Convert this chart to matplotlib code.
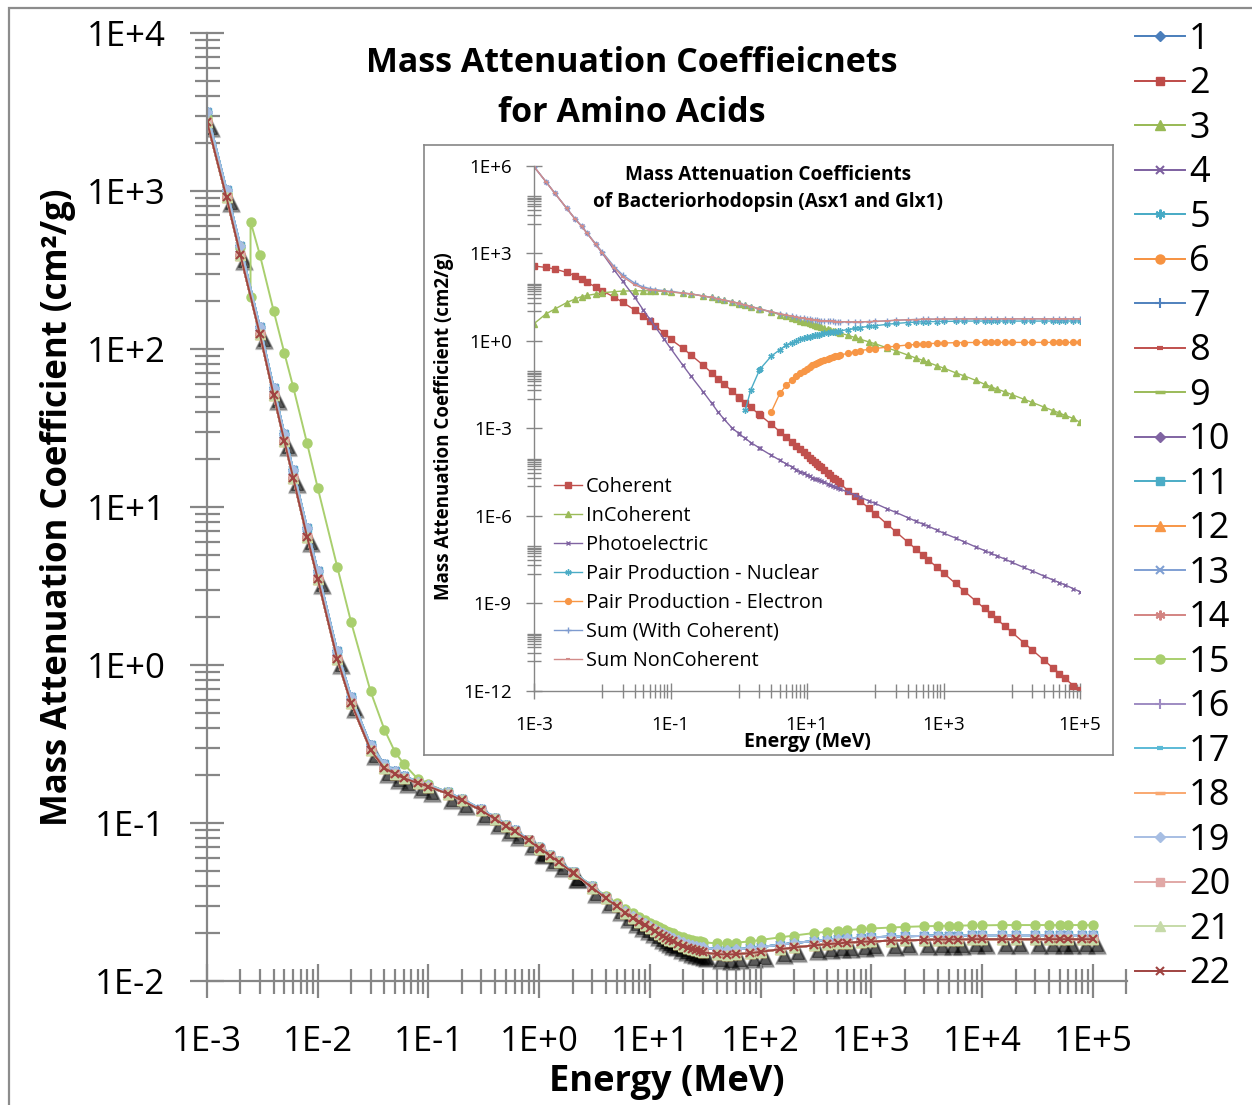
import numpy as np
import matplotlib
matplotlib.use("Agg")
import matplotlib.pyplot as plt
from matplotlib import ticker
from matplotlib.transforms import offset_copy

plt.rcParams['font.family'] = ['Open Sans', 'DejaVu Sans']

# photon energies (MeV), standard grid
energy = [1e-3, 1.5e-3, 2e-3, 3e-3, 4e-3, 5e-3, 6e-3, 8e-3, 1e-2, 1.5e-2,
          2e-2, 3e-2, 4e-2, 5e-2, 6e-2, 8e-2, 0.1, 0.15, 0.2, 0.3,
          0.4, 0.5, 0.6, 0.8, 1.0, 1.022, 1.25, 1.5, 2.0, 2.044,
          3, 4, 5, 6, 7, 8, 9, 10, 11, 12,
          13, 14, 15, 16, 18, 20, 22, 24, 26, 28,
          30, 40, 50, 60, 80, 100, 150, 200, 300, 400,
          500, 600, 800, 1e3, 1.5e3, 2e3, 3e3, 4e3, 5e3, 6e3,
          8e3, 1e4, 1.5e4, 2e4, 3e4, 4e4, 5e4, 6e4, 8e4, 1e5]

# amino acid curves (cm2/g): upper and lower edge of the bundle
cluster_hi = [3150, 1020, 450, 138, 57, 29, 17.2, 7.4, 3.95, 1.22,
              0.63, 0.31, 0.235, 0.214, 0.198, 0.183, 0.174, 0.156, 0.142, 0.122,
              0.108, 0.097, 0.090, 0.0785, 0.0705, 0.0698, 0.063, 0.0574, 0.0493, 0.0487,
              0.0397, 0.0341, 0.0304, 0.0278, 0.0259, 0.0244, 0.0232, 0.0222, 0.0214, 0.0207,
              0.0201, 0.0196, 0.0192, 0.0188, 0.0181, 0.0176, 0.0172, 0.0169, 0.0167, 0.0165,
              0.0163, 0.0159, 0.0158, 0.0159, 0.0161, 0.0164, 0.0170, 0.0174, 0.0179, 0.0182,
              0.0184, 0.0186, 0.0188, 0.0189, 0.0191, 0.0192, 0.0193, 0.0194, 0.0194, 0.0194,
              0.0195, 0.0195, 0.0195, 0.0195, 0.0195, 0.0195, 0.0195, 0.0195, 0.0195, 0.0195]
cluster_lo = [2750, 910, 395, 124, 51, 26, 15.3, 6.5, 3.5, 1.09,
              0.575, 0.29, 0.222, 0.205, 0.192, 0.179, 0.170, 0.153, 0.139, 0.120,
              0.106, 0.0955, 0.0885, 0.0775, 0.0695, 0.0688, 0.0622, 0.0566, 0.0486, 0.0480,
              0.0390, 0.0334, 0.0297, 0.0271, 0.0252, 0.0237, 0.0225, 0.0215, 0.0207, 0.0199,
              0.0193, 0.0187, 0.0183, 0.0179, 0.0172, 0.0166, 0.0162, 0.0159, 0.0156, 0.0154,
              0.0152, 0.0148, 0.0147, 0.0148, 0.0150, 0.0153, 0.0159, 0.0163, 0.0168, 0.0171,
              0.0173, 0.0175, 0.0177, 0.0178, 0.0180, 0.0181, 0.0182, 0.0183, 0.0183, 0.0183,
              0.0184, 0.0184, 0.0184, 0.0184, 0.0184, 0.0184, 0.0184, 0.0184, 0.0184, 0.0184]

# series 15 has the sulfur K edge (2.472 keV listed twice)
s15_energy = energy[:3] + [2.472e-3, 2.472e-3] + energy[3:]
s15_values = [2900, 960, 440, 214, 640, 395, 174, 94, 57.6, 25.4,
              13.2, 4.18, 1.87, 0.68, 0.39, 0.28, 0.236, 0.19, 0.176, 0.156,
              0.141, 0.121, 0.107, 0.0965, 0.089, 0.078, 0.070, 0.0694, 0.0627, 0.0572,
              0.0493, 0.0487, 0.0399, 0.0345, 0.0310, 0.0286, 0.0268, 0.0254, 0.0243, 0.0234,
              0.0226, 0.0219, 0.0213, 0.0208, 0.0204, 0.0200, 0.0194, 0.0189, 0.0185, 0.0182,
              0.0180, 0.0178, 0.0176, 0.0173, 0.0173, 0.0175, 0.0178, 0.0182, 0.0189, 0.0194,
              0.0201, 0.0205, 0.0208, 0.0210, 0.0213, 0.0215, 0.0218, 0.0220, 0.0222, 0.0223,
              0.0224, 0.0224, 0.0225, 0.0225, 0.0226, 0.0226, 0.0226, 0.0226, 0.0226, 0.0226,
              0.0226, 0.0226]

series_names = [str(i) for i in range(1, 23)]
series_curve = ['hi', 'lo', 'lo', 'lo', 'hi', 'lo', 'hi', 'lo', 'lo', 'lo', 'hi',
                'lo', 'hi', 'lo', 's15', 'lo', 'hi', 'lo', 'hi', 'lo', 'lo', 'lo']

# inset: bacteriorhodopsin components
coherent = [363, 324, 288, 219, 170, 129, 100, 69, 51, 31,
            20.4, 11.2, 6.9, 4.6, 3.16, 1.82, 1.12, 0.56, 0.32, 0.145,
            0.079, 0.049, 0.033, 0.0186, 0.0117, 0.0112, 7.4e-3, 5.1e-3, 2.95e-3, 2.8e-3,
            1.35e-3, 7.6e-4, 4.8e-4, 3.3e-4, 2.45e-4, 1.86e-4, 1.48e-4, 1.17e-4, 9.8e-5, 8.1e-5,
            6.9e-5, 6.0e-5, 5.2e-5, 4.6e-5, 3.6e-5, 2.95e-5, 2.4e-5, 2.0e-5, 1.74e-5, 1.48e-5,
            1.29e-5, 7.2e-6, 4.7e-6, 3.2e-6, 1.82e-6, 1.15e-6, 5.0e-7, 2.8e-7, 1.23e-7, 6.9e-8,
            4.4e-8, 3.0e-8, 1.7e-8, 1.07e-8, 4.7e-9, 2.6e-9, 1.15e-9, 6.5e-10, 4.1e-10, 2.8e-10,
            1.6e-10, 1.0e-10, 4.4e-11, 2.45e-11, 1.07e-11, 6.0e-12, 3.8e-12, 2.6e-12, 1.48e-12, 1.07e-12]
incoherent = [3.8, 8.3, 12.0, 20.0, 26.9, 32.4, 35.5, 39.8, 43.7, 47.9,
              50.1, 51.3, 51.3, 51.3, 50.1, 49.0, 46.8, 42.7, 39.8, 33.9,
              30.2, 26.9, 24.5, 21.4, 19.1, 18.6, 16.6, 14.8, 12.3, 12.0,
              9.5, 7.8, 6.8, 5.9, 5.4, 4.9, 4.5, 4.2, 3.9, 3.6,
              3.47, 3.24, 3.09, 2.95, 2.69, 2.51, 2.34, 2.19, 2.09, 1.95,
              1.86, 1.51, 1.29, 1.12, 0.91, 0.78, 0.56, 0.45, 0.32, 0.25,
              0.21, 0.178, 0.138, 0.115, 0.079, 0.062, 0.043, 0.032, 0.026, 0.022,
              0.0174, 0.0141, 9.8e-3, 7.6e-3, 5.2e-3, 4.0e-3, 3.3e-3, 2.75e-3, 2.14e-3, 1.58e-3]
photoelectric = [9.3e5, 2.8e5, 1.17e5, 3.5e4, 1.48e4, 8.3e3, 4.8e3, 2.0e3, 1.0e3, 263,
                 107, 30.2, 11.2, 5.4, 2.95, 1.15, 0.55, 0.148, 0.060, 0.0178,
                 7.2e-3, 3.5e-3, 2.1e-3, 1.0e-3, 6.6e-4, 6.2e-4, 4.4e-4, 3.2e-4, 2.1e-4, 2.0e-4,
                 1.17e-4, 7.9e-5, 5.9e-5, 4.7e-5, 3.8e-5, 3.2e-5, 2.8e-5, 2.45e-5, 2.2e-5, 2.0e-5,
                 1.86e-5, 1.74e-5, 1.62e-5, 1.51e-5, 1.38e-5, 1.23e-5, 1.12e-5, 1.05e-5, 9.5e-6, 8.9e-6,
                 8.3e-6, 6.3e-6, 5.1e-6, 4.3e-6, 3.2e-6, 2.6e-6, 1.7e-6, 1.29e-6, 8.5e-7, 6.3e-7,
                 5.1e-7, 4.3e-7, 3.2e-7, 2.5e-7, 1.7e-7, 1.26e-7, 8.3e-8, 6.3e-8, 5.0e-8, 4.2e-8,
                 3.2e-8, 2.5e-8, 1.66e-8, 1.26e-8, 8.3e-9, 6.2e-9, 5.0e-9, 4.2e-9, 3.1e-9, 2.45e-9]
pair_nuc_energy = energy[26:]
pair_nuclear = [4.2e-3, 0.0204, 0.095, 0.105, 0.295, 0.49, 0.71, 0.83, 0.98, 1.10,
                1.20, 1.29, 1.38, 1.45, 1.51, 1.58, 1.62, 1.66, 1.78, 1.86,
                1.91, 2.0, 2.04, 2.09, 2.14, 2.4, 2.63, 2.82, 3.09, 3.24,
                3.63, 3.89, 4.17, 4.32, 4.42, 4.47, 4.52, 4.57, 4.62, 4.68,
                4.68, 4.68, 4.68, 4.68, 4.68, 4.68, 4.68, 4.68, 4.68, 4.68,
                4.68, 4.68, 4.68, 4.68]
pair_el_energy = energy[30:]
pair_electron = [3.6e-3, 0.0155, 0.030, 0.045, 0.060, 0.076, 0.093, 0.110, 0.126, 0.141,
                 0.155, 0.170, 0.182, 0.195, 0.219, 0.240, 0.257, 0.275, 0.288, 0.309,
                 0.316, 0.37, 0.417, 0.457, 0.50, 0.537, 0.60, 0.646, 0.708, 0.741,
                 0.767, 0.786, 0.813, 0.83, 0.85, 0.86, 0.865, 0.87, 0.87, 0.87,
                 0.87, 0.87, 0.87, 0.87, 0.87, 0.87, 0.87, 0.87, 0.87, 0.87]
sum_with_coh = [9.3e5, 2.8e5, 1.17e5, 3.5e4, 1.5e4, 8.5e3, 4.9e3, 2.1e3, 1.1e3, 342,
                178, 93, 69, 61, 56, 52, 48.5, 43.4, 40.2, 34.1,
                30.3, 27.0, 24.6, 21.4, 19.1, 18.6, 16.6, 14.8, 12.4, 12.1,
                9.85, 8.3, 7.5, 6.8, 6.4, 6.1, 5.8, 5.6, 5.4, 5.3,
                5.2, 5.0, 4.9, 4.85, 4.73, 4.66, 4.6, 4.56, 4.52, 4.5,
                4.47, 4.4, 4.4, 4.4, 4.5, 4.56, 4.79, 5.0, 5.2, 5.3,
                5.4, 5.45, 5.48, 5.52, 5.55, 5.57, 5.57, 5.57, 5.57, 5.57,
                5.57, 5.57, 5.57, 5.57, 5.57, 5.57, 5.57, 5.57, 5.57, 5.57]
sum_noncoh = [9.3e5, 2.8e5, 1.17e5, 3.5e4, 1.48e4, 8.3e3, 4.8e3, 2.04e3, 1.04e3, 311,
              157, 81.5, 62.5, 56.7, 53, 50.2, 47.4, 42.8, 39.9, 33.9,
              30.2, 26.9, 24.5, 21.4, 19.1, 18.6, 16.6, 14.8, 12.4, 12.1,
              9.85, 8.3, 7.5, 6.8, 6.4, 6.1, 5.8, 5.6, 5.4, 5.3,
              5.2, 5.0, 4.9, 4.85, 4.73, 4.66, 4.6, 4.56, 4.52, 4.5,
              4.47, 4.4, 4.4, 4.4, 4.5, 4.56, 4.79, 5.0, 5.2, 5.3,
              5.4, 5.45, 5.48, 5.52, 5.55, 5.57, 5.57, 5.57, 5.57, 5.57,
              5.57, 5.57, 5.57, 5.57, 5.57, 5.57, 5.57, 5.57, 5.57, 5.57]

# styles (colour, marker, size, edge width) for the 22 series
series_style = [
    ('#4A7EBB', 'D', 5.5, 1), ('#BE4B48', 's', 6, 1), ('#98B954', '^', 6.5, 1),
    ('#7D60A0', 'x', 6, 1.5), ('#46AAC5', (6, 2, 0), 7, 1.5), ('#F69240', 'o', 6.5, 1),
    ('#4F81BD', '+', 7, 1.5), ('#C0504D', '_', 5, 3), ('#9BBB59', '_', 7, 2.5),
    ('#8064A2', 'D', 5.5, 1), ('#4BACC6', 's', 6, 1), ('#F79646', '^', 6.5, 1),
    ('#7F9FD3', 'x', 6, 1.5), ('#D38482', (6, 2, 0), 7, 1.5), ('#A9CF6E', 'o', 6.5, 1),
    ('#9E8BC2', '+', 7, 1.5), ('#5BBAD6', '_', 5, 3), ('#F9A870', '_', 7, 2.5),
    ('#A7BEE3', 'D', 5.5, 1), ('#E1A8A6', 's', 6, 1), ('#C6DAA8', '^', 6.5, 1),
    ('#A04341', 'x', 6, 1.5),
]

W, H = 1252, 1105
axis_grey = '#868686'


def dec_label(v, pos):
    return "1E{:+d}".format(int(round(np.log10(v))))


fig = plt.figure(figsize=(W / 100, H / 100), dpi=100)

# outer chart border (left and top visible)
fig.patches.append(plt.Rectangle((9 / W, -0.05), 1.2, 1 - 8 / H + 0.05, transform=fig.transFigure,
                                 fill=False, ec='#8C8C8C', lw=1.6))

ax = fig.add_axes([207 / W, 1 - 981 / H, (1127 - 207) / W, (981 - 33) / H])
ax.set_xscale('log')
ax.set_yscale('log')
ax.set_xlim(1e-3, 10 ** (5 + 34 / 110.7))
ax.set_ylim(1e-2, 1e4)
for s in ['top', 'right']:
    ax.spines[s].set_visible(False)
for s in ['left', 'bottom']:
    ax.spines[s].set_color(axis_grey)
    ax.spines[s].set_linewidth(1.6)
for axis in (ax.xaxis, ax.yaxis):
    axis.set_major_locator(ticker.LogLocator(base=10, numticks=30))
    axis.set_minor_locator(ticker.LogLocator(base=10, subs=range(2, 10), numticks=30))
    axis.set_major_formatter(ticker.FuncFormatter(dec_label))
    axis.set_minor_formatter(ticker.NullFormatter())
ax.tick_params(which='major', direction='inout', length=24, width=1.6, color=axis_grey, labelsize=25)
ax.tick_params(which='minor', direction='inout', length=18, width=1.6, color=axis_grey)
ax.tick_params(axis='y', which='major', pad=18)
ax.tick_params(axis='x', which='major', pad=20)

curves = {'hi': (energy, cluster_hi), 'lo': (energy, cluster_lo), 's15': (s15_energy, s15_values)}

# soft black shadow under series 21
shadow_tr = offset_copy(ax.transData, fig=fig, x=4, y=-6, units='dots')
for ms, a in [(13, 0.15), (11, 0.25), (9, 0.45)]:
    ax.plot(energy, cluster_lo, ls='none', marker='^', ms=ms, color='black', alpha=a,
            transform=shadow_tr, zorder=1)

lines = []
for i, (name, grp, st) in enumerate(zip(series_names, series_curve, series_style)):
    col, mk, ms, mew = st
    x, y = curves[grp]
    ln, = ax.plot(x, y, color=col, lw=1.4, marker=mk, ms=ms, mfc=col, mec=col, mew=mew,
                  label=name, zorder=2 + i * 0.01)
    lines.append(ln)

ax.set_title("Mass Attenuation Coeffieicnets\nfor Amino Acids", x=(632 - 207) / 920,
             y=(981 - 88) / 948, pad=0, fontsize=24.5, fontweight='bold', va='center',
             linespacing=1.62)
ax.set_xlabel("Energy (MeV)", fontsize=26, fontweight='bold', va='center')
ax.xaxis.set_label_coords(0.5, (981 - 1082) / 948)
ax.set_ylabel("Mass Attenuation Coefficient (cm²/g)", fontsize=25, fontweight='bold', va='center')
ax.yaxis.set_label_coords((58 - 207) / 920, 0.5)

fig.legend(lines, series_names, loc='upper left', bbox_to_anchor=(1135 / W, 1 - 22 / H),
           frameon=False, fontsize=26, handlelength=1.38, handletextpad=0.12,
           labelspacing=0.235, borderpad=0, borderaxespad=0)

# inset frame
box = fig.add_axes([424 / W, 1 - 755 / H, (1113 - 424) / W, (755 - 145) / H])
box.set_xticks([])
box.set_yticks([])
for s in box.spines.values():
    s.set_color(axis_grey)
    s.set_linewidth(1.2)
box.set_zorder(1)

ins = fig.add_axes([534 / W, 1 - 690.5 / H, (1080 - 534) / W, (690.5 - 165.7) / H])
ins.set_zorder(2)
ins.patch.set_alpha(0)
ins.set_xscale('log')
ins.set_yscale('log')
ins.set_xlim(1e-3, 1e5)
ins.set_ylim(1e-12, 1e6)
for s in ['top', 'right']:
    ins.spines[s].set_visible(False)
for s in ['left', 'bottom']:
    ins.spines[s].set_color(axis_grey)
    ins.spines[s].set_linewidth(1.0)
xmaj = [10.0 ** n for n in range(-3, 6, 2)]
ymaj = [10.0 ** n for n in range(-12, 7, 3)]
ins.xaxis.set_major_locator(ticker.FixedLocator(xmaj))
ins.yaxis.set_major_locator(ticker.FixedLocator(ymaj))
ins.xaxis.set_minor_locator(ticker.FixedLocator([k * 10.0 ** (n + 1) for n in range(-3, 5, 2) for k in range(1, 10)]))
ins.yaxis.set_minor_locator(ticker.FixedLocator([k * 10.0 ** (n + 1) for n in range(-12, 6, 3) for k in range(1, 10)]))
ins.xaxis.set_major_formatter(ticker.FuncFormatter(dec_label))
ins.yaxis.set_major_formatter(ticker.FuncFormatter(dec_label))
ins.xaxis.set_minor_formatter(ticker.NullFormatter())
ins.yaxis.set_minor_formatter(ticker.NullFormatter())
ins.tick_params(which='major', direction='inout', length=12, width=1, color=axis_grey, labelsize=13.5)
ins.tick_params(which='minor', direction='inout', length=10, width=1, color=axis_grey)
ins.tick_params(axis='y', which='major', pad=10)
ins.tick_params(axis='x', which='major', pad=12)

ins.plot(energy, coherent, color='#C0504D', lw=1, marker='s', ms=4, label='Coherent')
ins.plot(energy, incoherent, color='#9BBB59', lw=1, marker='^', ms=4, label='InCoherent')
ins.plot(energy, photoelectric, color='#8064A2', lw=1, marker='x', ms=3.5, mew=1, label='Photoelectric')
ins.plot(pair_nuc_energy, pair_nuclear, color='#4BACC6', lw=1, marker=(6, 2, 0), ms=4.5, mew=1,
         label='Pair Production - Nuclear')
ins.plot(pair_el_energy, pair_electron, color='#F79646', lw=1, marker='o', ms=4.2, label='Pair Production - Electron')
ins.plot(energy, sum_with_coh, color='#7E9BCF', lw=1, marker='+', ms=4, mew=1, label='Sum (With Coherent)')
ins.plot(energy, sum_noncoh, color='#D28C8A', lw=1, marker='_', ms=3.5, mew=1.5, label='Sum NonCoherent')

ins.set_title("Mass Attenuation Coefficients\nof Bacteriorhodopsin (Asx1 and Glx1)",
              x=(768 - 534) / 546, y=(690.5 - 188.5) / 524.8, pad=0, fontsize=13.7,
              fontweight='bold', va='center', linespacing=1.45)
ins.set_xlabel("Energy (MeV)", fontsize=14, fontweight='bold', va='center')
ins.xaxis.set_label_coords(0.5, (690.5 - 742) / 524.8)
ins.set_ylabel("Mass Attenuation Coefficient (cm2/g)", fontsize=13.5, fontweight='bold', va='center')
ins.yaxis.set_label_coords((444 - 534) / 546, 0.503)

ins.legend(loc='upper left', bbox_to_anchor=((554 - 534) / 546, (690.5 - 477) / 524.8),
           frameon=False, fontsize=14.3, handlelength=1.4, handletextpad=0.2, labelspacing=0.45,
           borderpad=0, borderaxespad=0)

fig.savefig("out.png", dpi=100)
